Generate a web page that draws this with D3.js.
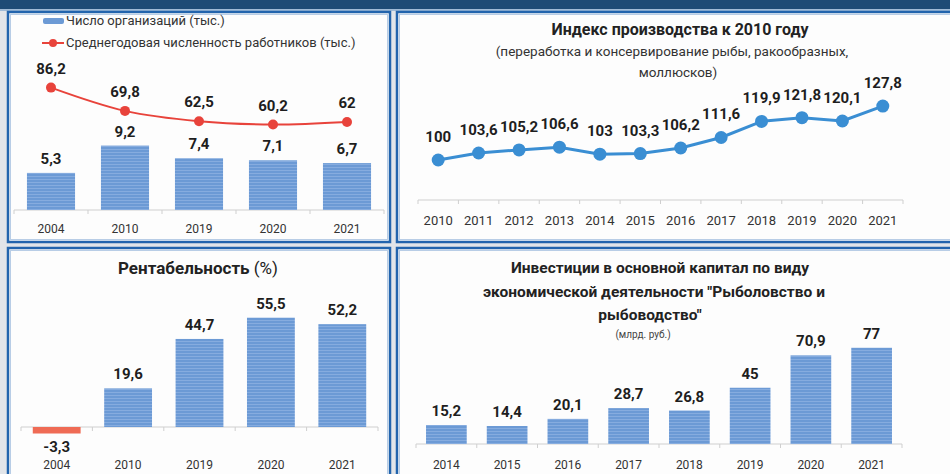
<!DOCTYPE html>
<html>
<head>
<meta charset="utf-8">
<script src="https://cdn.jsdelivr.net/npm/d3@7"></script>
<style>
  body { margin: 0; background: #e2e5e9; }
  svg { display: block; }
</style>
</head>
<body>
<div id="area"></div>
<script>
// top-left: organisations and workers
const orgYears = ["2004", "2010", "2019", "2020", "2021"]
const orgCount = [5.3, 9.2, 7.4, 7.1, 6.7]
const workers = [86.2, 69.8, 62.5, 60.2, 62]

// top-right: production index (2010 = 100)
const indexYears = ["2010", "2011", "2012", "2013", "2014", "2015", "2016", "2017", "2018", "2019", "2020", "2021"]
const indexValues = [100, 103.6, 105.2, 106.6, 103, 103.3, 106.2, 111.6, 119.9, 121.8, 120.1, 127.8]

// bottom-left: profitability
const profitYears = ["2004", "2010", "2019", "2020", "2021"]
const profit = [-3.3, 19.6, 44.7, 55.5, 52.2]

// bottom-right: investments
const investYears = ["2014", "2015", "2016", "2017", "2018", "2019", "2020", "2021"]
const invest = [15.2, 14.4, 20.1, 28.7, 26.8, 45, 70.9, 77]

const width = 950, height = 474
const font = "Roboto, 'Open Sans', sans-serif"
const fmt = d => String(d).replace(".", ",")

const svg = d3.select("#area").append("svg")
    .attr("width", width)
    .attr("height", height)
    .attr("font-family", font)

const defs = svg.append("defs")
const pat = defs.append("pattern")
    .attr("id", "stripes")
    .attr("patternUnits", "userSpaceOnUse")
    .attr("width", 6).attr("height", 3)
pat.append("rect").attr("width", 6).attr("height", 3).attr("fill", "#6c9ad5")
pat.append("rect").attr("y", 2).attr("width", 6).attr("height", 1).attr("fill", "#86acdf")

// top dark band
svg.append("rect").attr("x", 0).attr("y", 0).attr("width", width).attr("height", 9).attr("fill", "#1d4b76")
svg.append("rect").attr("x", 0).attr("y", 9).attr("width", width).attr("height", 2).attr("fill", "#9fbad6")

// panels
const panels = [
    [8, 12, 382, 230],
    [397, 12, 570, 230],
    [8, 248, 382, 240],
    [397, 248, 570, 240]
]
svg.append("g").selectAll("rect")
    .data(panels)
    .join("rect")
    .attr("x", d => d[0]).attr("y", d => d[1])
    .attr("width", d => d[2]).attr("height", d => d[3])
    .attr("fill", "#fdfdfd")
    .attr("stroke", "#2264ad")
    .attr("stroke-width", 2.5)
svg.append("g").selectAll("rect")
    .data(panels)
    .join("rect")
    .attr("x", d => d[0] + 2.5).attr("y", d => d[1] + 2.5)
    .attr("width", d => d[2] - 5).attr("height", d => d[3] - 5)
    .attr("fill", "none")
    .attr("stroke", "#b8cde6")
    .attr("stroke-width", 1)

function xAxis(x, y0) {
    const g = svg.append("g")
    const [r0, r1] = x.range()
    g.append("line")
        .attr("x1", r0).attr("x2", r1).attr("y1", y0).attr("y2", y0)
        .attr("stroke", "#cfcfcf")
    const step = x.step()
    const start = x(x.domain()[0]) - x.step() * x.paddingInner() / 2
    g.selectAll("line.tick")
        .data(d3.range(x.domain().length + 1))
        .join("line")
        .attr("class", "tick")
        .attr("x1", i => start + i * step).attr("x2", i => start + i * step)
        .attr("y1", y0).attr("y2", y0 + 4)
        .attr("stroke", "#cfcfcf")
    return g
}

function yearLabels(x, y, years, size) {
    svg.append("g")
        .selectAll("text")
        .data(years)
        .join("text")
        .attr("x", d => x(d) + x.bandwidth() / 2)
        .attr("y", y)
        .attr("text-anchor", "middle")
        .attr("font-size", size)
        .attr("fill", "#333")
        .text(d => d)
}

function valueLabels(data, xf, yf, size) {
    svg.append("g")
        .selectAll("text")
        .data(data)
        .join("text")
        .attr("x", xf)
        .attr("y", yf)
        .attr("text-anchor", "middle")
        .attr("font-size", size)
        .attr("font-weight", "bold")
        .attr("fill", "#1e1e1e")
        .text(d => fmt(d.v))
}

// ---------- top-left ----------
{
    const x = d3.scaleBand().domain(orgYears).range([14, 384]).paddingInner(0.35).paddingOuter(0.175)
    const yBar = d3.scaleLinear().domain([0, 20]).range([210, 70])
    const yLine = d3.scaleLinear().domain([0, 100]).range([210, 68])
    const data = orgYears.map((k, i) => ({k, v: orgCount[i], w: workers[i]}))

    xAxis(x, 210)
    svg.append("g").selectAll("rect")
        .data(data)
        .join("rect")
        .attr("x", d => x(d.k))
        .attr("y", d => yBar(d.v))
        .attr("width", x.bandwidth())
        .attr("height", d => yBar(0) - yBar(d.v))
        .attr("fill", "url(#stripes)")
    valueLabels(data, d => x(d.k) + x.bandwidth() / 2, d => yBar(d.v) - 9, 15)

    const line = d3.line()
        .x(d => x(d.k) + x.bandwidth() / 2)
        .y(d => yLine(d.w))
        .curve(d3.curveCatmullRom.alpha(0.5))
    svg.append("path")
        .datum(data)
        .attr("d", line)
        .attr("fill", "none")
        .attr("stroke", "#e8433b")
        .attr("stroke-width", 2)
    svg.append("g").selectAll("circle")
        .data(data)
        .join("circle")
        .attr("cx", d => x(d.k) + x.bandwidth() / 2)
        .attr("cy", d => yLine(d.w))
        .attr("r", 5)
        .attr("fill", "#e8433b")
    svg.append("g").selectAll("text")
        .data(data)
        .join("text")
        .attr("x", d => x(d.k) + x.bandwidth() / 2)
        .attr("y", d => yLine(d.w) - 14)
        .attr("text-anchor", "middle")
        .attr("font-size", 15)
        .attr("font-weight", "bold")
        .attr("fill", "#1e1e1e")
        .text(d => fmt(d.w))
    yearLabels(x, 233, orgYears, 12)

    // legend
    svg.append("rect").attr("x", 43).attr("y", 18).attr("width", 21).attr("height", 6)
        .attr("rx", 2).attr("fill", "#6c9ad5")
    svg.append("text").attr("x", 66).attr("y", 25).attr("font-size", 13).attr("fill", "#333")
        .text("Число организаций (тыс.)")
    svg.append("line").attr("x1", 42).attr("x2", 64).attr("y1", 43).attr("y2", 43)
        .attr("stroke", "#e8433b").attr("stroke-width", 2)
    svg.append("circle").attr("cx", 53).attr("cy", 43).attr("r", 4).attr("fill", "#e8433b")
    svg.append("text").attr("x", 66).attr("y", 47).attr("font-size", 13).attr("fill", "#333")
        .text("Среднегодовая численность работников (тыс.)")
}

// ---------- top-right ----------
{
    const x = d3.scaleBand().domain(indexYears).range([418, 903])
    const y = d3.scaleLinear().domain([90, 130]).range([179.4, 101.8])
    const data = indexYears.map((k, i) => ({k, v: indexValues[i]}))
    const cx = d => x(d.k) + x.bandwidth() / 2

    xAxis(x, 200)
    svg.append("path")
        .datum(data)
        .attr("d", d3.line().x(cx).y(d => y(d.v)))
        .attr("fill", "none")
        .attr("stroke", "#3a8ed3")
        .attr("stroke-width", 3)
    svg.append("g").selectAll("circle")
        .data(data)
        .join("circle")
        .attr("cx", cx)
        .attr("cy", d => y(d.v))
        .attr("r", 6.5)
        .attr("fill", "#3a8ed3")
    valueLabels(data, cx, d => y(d.v) - 18, 15)
    yearLabels(x, 225, indexYears, 13)

    svg.append("text").attr("x", 680).attr("y", 35).attr("text-anchor", "middle")
        .attr("font-size", 16).attr("font-weight", "bold").attr("fill", "#222")
        .text("Индекс производства  к 2010 году")
    svg.append("text").attr("x", 672).attr("y", 56).attr("text-anchor", "middle")
        .attr("font-size", 13.5).attr("fill", "#333")
        .text("(переработка и консервирование рыбы, ракообразных,")
    svg.append("text").attr("x", 678).attr("y", 77).attr("text-anchor", "middle")
        .attr("font-size", 13.5).attr("fill", "#333")
        .text("моллюсков)")
}

// ---------- bottom-left ----------
{
    const x = d3.scaleBand().domain(profitYears).range([21, 378]).paddingInner(0.33).paddingOuter(0.165)
    const y = d3.scaleLinear().domain([-10, 60]).range([446.7, 308.8])
    const data = profitYears.map((k, i) => ({k, v: profit[i]}))

    xAxis(x, y(0))
    svg.append("g").selectAll("rect")
        .data(data)
        .join("rect")
        .attr("x", d => x(d.k))
        .attr("y", d => y(Math.max(0, d.v)))
        .attr("width", x.bandwidth())
        .attr("height", d => Math.abs(y(d.v) - y(0)))
        .attr("fill", d => d.v < 0 ? "#ef6b55" : "url(#stripes)")
    valueLabels(data, d => x(d.k) + x.bandwidth() / 2,
        d => d.v < 0 ? y(d.v) + 18 : y(d.v) - 9, 15)
    yearLabels(x, 469, profitYears, 12)

    const t = svg.append("text").attr("x", 198).attr("y", 274).attr("text-anchor", "middle")
        .attr("font-size", 17).attr("fill", "#222")
    t.append("tspan").attr("font-weight", "bold").text("Рентабельность ")
    t.append("tspan").text("(%)")
}

// ---------- bottom-right ----------
{
    const x = d3.scaleBand().domain(investYears).range([416, 902]).paddingInner(0.33).paddingOuter(0.165)
    const y = d3.scaleLinear().domain([0, 80]).range([444, 344])
    const data = investYears.map((k, i) => ({k, v: invest[i]}))

    xAxis(x, 444)
    svg.append("g").selectAll("rect")
        .data(data)
        .join("rect")
        .attr("x", d => x(d.k))
        .attr("y", d => y(d.v))
        .attr("width", x.bandwidth())
        .attr("height", d => y(0) - y(d.v))
        .attr("fill", "url(#stripes)")
    valueLabels(data, d => x(d.k) + x.bandwidth() / 2, d => y(d.v) - 9, 15)
    yearLabels(x, 469, investYears, 12)

    const lines = ["Инвестиции в основной капитал по виду",
        "экономической деятельности \"Рыболовство и",
        "рыбоводство\""]
    svg.append("g").selectAll("text")
        .data(lines)
        .join("text")
        .attr("x", (d, i) => [660, 654, 650][i])
        .attr("y", (d, i) => 273 + i * 23.5)
        .attr("text-anchor", "middle")
        .attr("font-size", 15.5)
        .attr("font-weight", "bold")
        .attr("fill", "#222")
        .text(d => d)
    svg.append("text").attr("x", 643).attr("y", 338).attr("text-anchor", "middle")
        .attr("font-size", 10).attr("fill", "#444")
        .text("(млрд. руб.)")
}
</script>
</body>
</html>
